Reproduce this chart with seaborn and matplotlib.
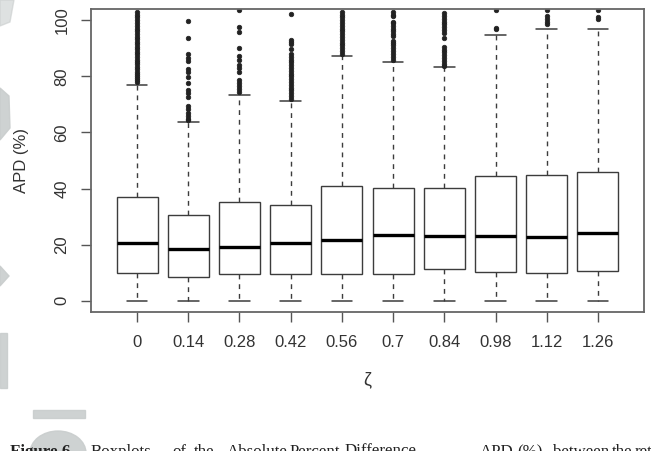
import numpy as np
import pandas as pd
import matplotlib.pyplot as plt
import matplotlib.patches as mpatches
import seaborn as sns

# values (APD %, one entry per zeta)
zeta_labels = ['0', '0.14', '0.28', '0.42', '0.56', '0.7', '0.84', '0.98', '1.12', '1.26']
q1 = [10.0, 8.5, 9.4, 9.4, 9.7, 9.7, 11.3, 10.2, 9.8, 10.6]
medians = [20.5, 18.3, 19.3, 20.6, 21.6, 23.5, 23.1, 23.1, 22.8, 24.0]
q3 = [37.0, 30.6, 35.2, 34.2, 40.9, 40.1, 40.1, 44.4, 44.7, 45.9]
whisker_low = [0, 0, 0, 0, 0, 0, 0, 0, 0, 0]
whisker_high = [77.0, 63.7, 73.4, 71.3, 87.1, 85.1, 83.2, 94.9, 96.8, 96.8]

outliers_000 = [78.0, 78.6, 79.3, 80.1, 80.9, 81.7, 82.6, 83.4, 84.3, 85.2, 86.0, 86.9, 87.8,
                88.7, 89.6, 90.5, 91.4, 92.3, 93.2, 94.1, 95.0, 96.0, 97.0, 98.0, 99.0,
                100.0, 101.0, 102.0, 103.0]
outliers_014 = [64.3, 64.9, 65.8, 67.0, 68.3, 69.4, 72.7, 73.9, 75.3, 77.8, 79.6, 81.4, 82.5,
                85.5, 86.7, 88.1, 93.5, 99.8]
outliers_028 = [74.5, 75.5, 76.5, 77.5, 78.6, 81.6, 82.8, 84.0, 85.8, 87.3, 90.2, 95.9, 97.6, 103.5]
outliers_042 = [72.0, 73.0, 74.0, 75.0, 76.0, 77.0, 78.0, 79.0, 80.0, 81.0, 82.0, 83.0, 84.0,
                85.0, 86.0, 87.0, 88.1, 89.6, 91.7, 92.4, 93.1, 102.1]
outliers_056 = [88.0, 89.0, 90.0, 91.0, 92.0, 93.0, 94.0, 95.0, 96.0, 97.0, 98.0, 99.0, 100.0,
                101.0, 102.0, 103.0]
outliers_070 = [86.0, 87.0, 88.0, 89.0, 90.0, 91.0, 92.0, 92.5, 94.5, 95.0, 96.0, 97.0, 98.0,
                99.0, 99.5, 101.5, 102.0, 103.0]
outliers_084 = [83.8, 84.5, 85.5, 86.5, 87.5, 88.5, 89.5, 90.5, 93.5, 95.5, 96.5, 97.5, 98.5,
                99.5, 100.5, 101.5, 102.5]
outliers_098 = [96.8, 97.2, 103.6]
outliers_112 = [98.6, 99.5, 100.5, 101.5, 103.6]
outliers_126 = [100.4, 101.2, 103.6]
outliers = [outliers_000, outliers_014, outliers_028, outliers_042, outliers_056,
            outliers_070, outliers_084, outliers_098, outliers_112, outliers_126]

# long table whose quartiles / whiskers / fliers equal the values above
# (4k+1 sorted points -> percentiles fall exactly on positions k, 2k, 3k)
rows = []
for i, lab in enumerate(zeta_labels):
    ups = [whisker_high[i]] + sorted(outliers[i])
    k = len(ups)
    vals = [whisker_low[i]] * k + [q1[i]] * k + [medians[i]] * k + [q3[i]] + ups
    rows += [(lab, v) for v in vals]
df = pd.DataFrame(rows, columns=['zeta', 'apd'])

sns.set_style('white')
plt.rcParams['font.family'] = ['Liberation Sans', 'DejaVu Sans']

fig = plt.figure(figsize=(6.51, 4.51), dpi=100)
ax = fig.add_axes([91 / 651, 1 - 312 / 451, 553 / 651, 303 / 451])

line_col = '#3c3c3c'
sns.boxplot(data=df, x='zeta', y='apd', order=zeta_labels, width=0.8, color='white',
            linecolor=line_col, linewidth=1.0, saturation=1,
            whiskerprops=dict(linestyle=(0, (3.5, 3.5)), linewidth=1.0),
            capprops=dict(linewidth=1.1),
            medianprops=dict(color='black', linewidth=2.4),
            flierprops=dict(marker='o', markersize=3.3, markerfacecolor='#222222',
                            markeredgecolor='#222222', markeredgewidth=0.5),
            ax=ax)

ax.set_xlim(-0.9, 9.9)
ax.set_ylim(-4, 104)
ax.set_yticks([0, 20, 40, 60, 80, 100])
ax.set_yticklabels(['0', '20', '40', '60', '80', '100'])

for sp in ax.spines.values():
    sp.set_color('#666666')
    sp.set_linewidth(1.3)

ax.tick_params(axis='both', direction='out', length=7.5, width=1.0, color='#555555',
               labelcolor='#333333', labelsize=12, left=True, bottom=True)
ax.tick_params(axis='x', pad=9)
ax.tick_params(axis='y', pad=8, labelrotation=90)
plt.setp(ax.get_yticklabels(), va='center')

ax.set_xlabel('ζ', fontsize=13, color='#333333')
ax.set_ylabel('APD (%)', fontsize=12, color='#333333')
ax.xaxis.set_label_coords(0.5, -(380 - 312) / 303, transform=ax.transAxes)
ax.yaxis.set_label_coords((22 - 91) / 553, 0.5)
ax.xaxis.label.set_va('center')
ax.yaxis.label.set_va('center')

# faint watermark remnants along the left edge
wm = '#c9cdcd'
def px(x, y):
    return (x / 651, 1 - y / 451)
fig.patches.append(mpatches.Polygon([px(0, 0), px(14, 0), px(10, 22), px(0, 26)],
                                    closed=True, transform=fig.transFigure, color=wm, alpha=0.6))
fig.patches.append(mpatches.Polygon([px(0, 88), px(9, 96), px(10, 128), px(0, 140)],
                                    closed=True, transform=fig.transFigure, color=wm, alpha=0.9))
fig.patches.append(mpatches.Polygon([px(0, 266), px(9, 276), px(0, 286)],
                                    closed=True, transform=fig.transFigure, color=wm, alpha=0.9))
fig.patches.append(mpatches.Rectangle(px(0, 388), 7 / 651, 55 / 451,
                                      transform=fig.transFigure, color=wm, alpha=0.9))
fig.patches.append(mpatches.Rectangle(px(33, 418), 52 / 651, 8 / 451,
                                      transform=fig.transFigure, color=wm, alpha=0.9))
fig.patches.append(mpatches.Ellipse(px(58, 453), 56 / 651, 44 / 451,
                                    transform=fig.transFigure, color=wm, alpha=0.9))

# caption line (cut off at the bottom of the picture)
caption_words = [('Figure 6.', 10, 'bold'), ('Boxplots', 91, 'normal'), ('of', 172, 'normal'),
                 ('the', 194, 'normal'), ('Absolute', 227, 'normal'), ('Percent', 290, 'normal'),
                 ('Difference,', 345, 'normal'), ('APD', 480, 'normal'), ('(%),', 517, 'normal'),
                 ('between', 553, 'normal'), ('the', 612, 'normal'), ('retri', 635, 'normal')]
for w, x, fw in caption_words:
    fig.text(x / 651, (451 - 456) / 451, w, fontsize=12.2, fontweight=fw,
             family=['Liberation Serif', 'DejaVu Serif'], color='#222222', va='baseline', ha='left')

fig.savefig('out.png', dpi=100)
